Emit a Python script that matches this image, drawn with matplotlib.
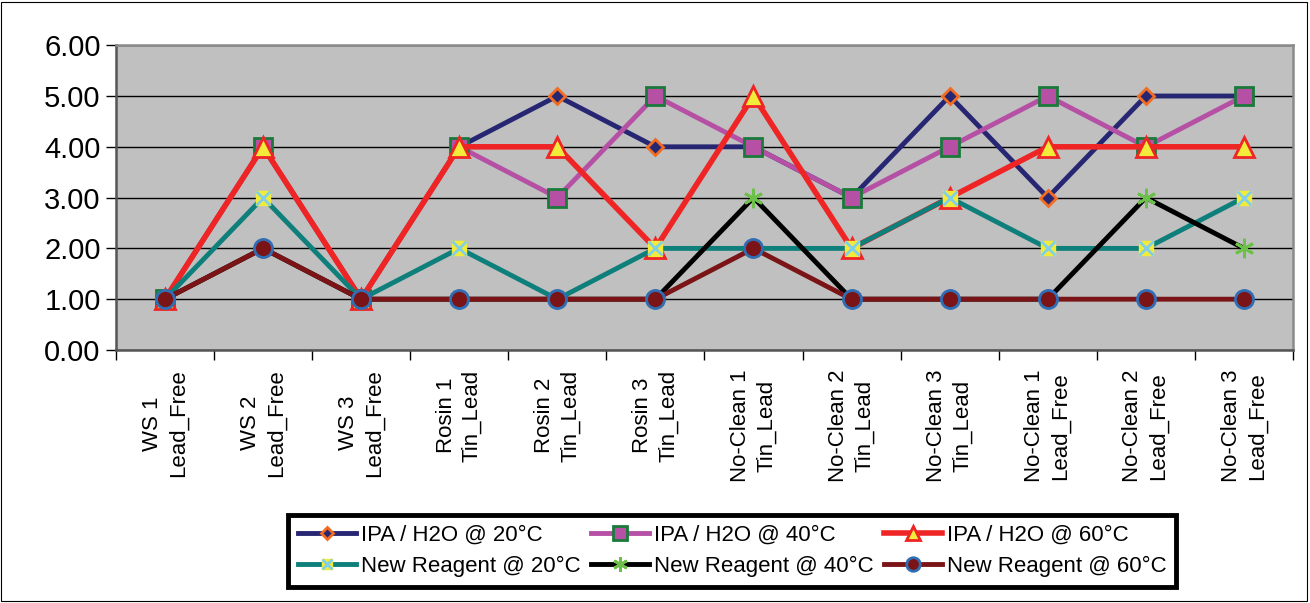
import matplotlib.pyplot as plt
from matplotlib.patches import Rectangle

plt.rcParams['font.family'] = ['Liberation Sans', 'DejaVu Sans']

categories = ["WS 1\nLead_Free", "WS 2\nLead_Free", "WS 3\nLead_Free",
              "Rosin 1\nTin_Lead", "Rosin 2\nTin_Lead", "Rosin 3\nTin_Lead",
              "No-Clean 1\nTin_Lead", "No-Clean 2\nTin_Lead", "No-Clean 3\nTin_Lead",
              "No-Clean 1\nLead_Free", "No-Clean 2\nLead_Free", "No-Clean 3\nLead_Free"]

ipa_20 = [1, 4, 1, 4, 5, 4, 4, 3, 5, 3, 5, 5]
ipa_40 = [1, 4, 1, 4, 3, 5, 4, 3, 4, 5, 4, 5]
ipa_60 = [1, 4, 1, 4, 4, 2, 5, 2, 3, 4, 4, 4]
new_20 = [1, 3, 1, 2, 1, 2, 2, 2, 3, 2, 2, 3]
new_40 = [1, 2, 1, 1, 1, 1, 3, 1, 1, 1, 3, 2]
new_60 = [1, 2, 1, 1, 1, 1, 2, 1, 1, 1, 1, 1]

x = list(range(len(categories)))

fig = plt.figure(figsize=(13.1, 6.03), dpi=100)
ax = fig.add_axes([0.0885, 0.4196, 0.8985, 0.5054])
ax.set_facecolor("#C0C0C0")

h1, = ax.plot(x, ipa_20, color="#262673", lw=3.5, marker="D", ms=8,
              mfc="#262673", mec="#F26B21", mew=2, zorder=3)
h2, = ax.plot(x, ipa_40, color="#B550A5", lw=3.5, marker="s", ms=13,
              mfc="#B550A5", mec="#1A7A3A", mew=2, zorder=4)
h3, = ax.plot(x, ipa_60, color="#EE2524", lw=4, marker="^", ms=14,
              mfc="#F2EB3A", mec="#EE2524", mew=2, zorder=5)
# teal series: yellow square with light blue x on top
l1, = ax.plot(x, new_20, color="#0E7F7A", lw=3.5, marker="s", ms=10,
              mfc="#F2EB3A", mec="#F2EB3A", zorder=6)
l2, = ax.plot(x, new_20, ls="none", marker="x", ms=10, mec="#7FD0E8", mew=2, zorder=6)
h5, = ax.plot(x, new_40, color="black", lw=3.5, marker=(6, 2, 0), ms=14,
              mec="#6CC04A", mew=2, zorder=7)
h6, = ax.plot(x, new_60, color="#7A1416", lw=3.5, marker="o", ms=13,
              mfc="#7A1416", mec="#2F6DB5", mew=2, zorder=8)

ax.set_xlim(-0.5, 11.5)
ax.set_ylim(0, 6)
ax.set_yticks(range(7))
ax.set_yticklabels([f"{v:.2f}" for v in range(7)], fontsize=21)
ax.yaxis.grid(True, color="black", lw=1)
ax.set_axisbelow(True)

ax.set_xticks(x)
ax.set_xticklabels(categories, rotation=90, fontsize=16, linespacing=1.3)
ax.tick_params(axis="x", which="major", length=0, pad=14)
ax.set_xticks([k + 0.5 for k in range(-1, 12)], minor=True)
ax.tick_params(axis="x", which="minor", length=7, width=1, direction="out")
ax.tick_params(axis="y", length=7, width=1, direction="out", pad=4)

for side in ["left", "bottom"]:
    ax.spines[side].set_color("#555555")
    ax.spines[side].set_linewidth(1.8)
for side in ["top", "right"]:
    ax.spines[side].set_color("#8A8A8A")
    ax.spines[side].set_linewidth(1.8)

# legend filled row by row like the original
handles = [h1, (l1, l2), h2, h5, h3, h6]
labels = ["IPA / H2O @ 20°C", "New Reagent @ 20°C",
          "IPA / H2O @ 40°C", "New Reagent @ 40°C",
          "IPA / H2O @ 60°C", "New Reagent @ 60°C"]
leg = fig.legend(handles, labels, ncol=3, loc="center",
                 bbox_to_anchor=(0.559, 0.086), fontsize=16, frameon=True,
                 fancybox=False, edgecolor="black", framealpha=1,
                 handlelength=2.6, markerscale=0.75,
                 columnspacing=0.5, handletextpad=0.2, borderpad=0.45,
                 labelspacing=0.45, borderaxespad=0)
leg.get_frame().set_linewidth(3.5)

fig.patches.append(Rectangle((0.001, 0.003), 0.997, 0.994, transform=fig.transFigure,
                             fill=False, edgecolor="black", lw=0.8))

fig.savefig("out.png", dpi=100)
